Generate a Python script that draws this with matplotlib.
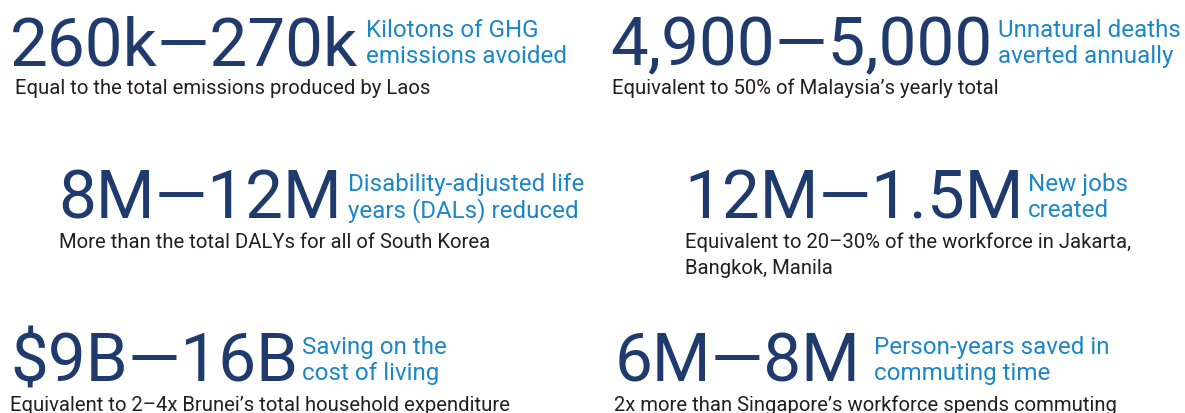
import matplotlib.pyplot as plt

plt.rcParams['font.family'] = ['Roboto', 'DejaVu Sans']

# figures shown on the sheet
low = ['260k', '4,900', '8M', '12M', '$9B', '6M']
high = ['270k', '5,000', '12M', '1.5M', '16B', '8M']
labels = [
    'Kilotons of GHG\nemissions avoided',
    'Unnatural deaths\naverted annually',
    'Disability-adjusted life\nyears (DALs) reduced',
    'New jobs\ncreated',
    'Saving on the\ncost of living',
    'Person-years saved in\ncommuting time',
]
notes = [
    'Equal to the total emissions produced by Laos',
    'Equivalent to 50% of Malaysia\u2019s yearly total',
    'More than the total DALYs for all of South Korea',
    'Equivalent to 20\u201330% of the workforce in Jakarta,\nBangkok, Manila',
    'Equivalent to 2\u20134x Brunei\u2019s total household expenditure',
    '2x more than Singapore\u2019s workforce spends commuting',
]

# layout in pixels: (number x, label x, note x, baseline y)
layout = [
    (10, 366, 15, 65),
    (610, 998, 612, 65),
    (58, 348, 59, 219),
    (684, 1028, 685, 219),
    (10, 302, 10, 382),
    (615, 874, 614, 382),
]

navy = '#1f3a6c'
blue = '#1b87c7'
grey = '#231f20'

fig = plt.figure(figsize=(11.85, 4.14), dpi=100)
ax = fig.add_axes([0, 0, 1, 1])
ax.set_xlim(0, 1185)
ax.set_ylim(414, 0)
ax.axis('off')

for i in range(len(low)):
    nx, lx, tx, y = layout[i]
    ax.text(nx, y, low[i] + '\u2014' + high[i], color=navy, fontsize=48.5,
            ha='left', va='baseline')
    top, bottom = labels[i].split('\n')
    ax.text(lx, y - 28, top, color=blue, fontsize=17.4, ha='left', va='baseline')
    ax.text(lx, y - 2, bottom, color=blue, fontsize=17.4, ha='left', va='baseline')
    for j, line in enumerate(notes[i].split('\n')):
        ax.text(tx, y + 29 + j * 26, line, color=grey, fontsize=14.6,
                ha='left', va='baseline')

fig.savefig('out.png', dpi=100)
